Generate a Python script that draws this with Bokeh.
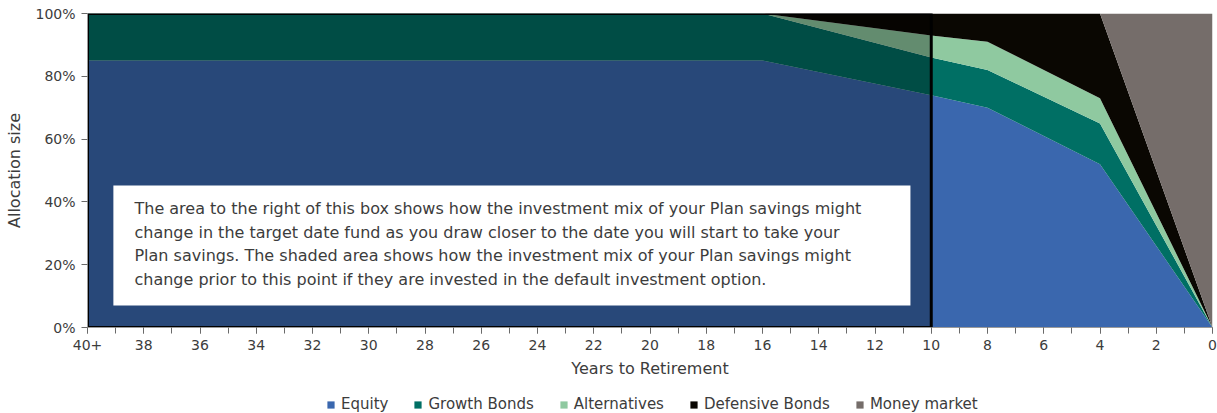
from bokeh.plotting import figure
from bokeh.layouts import column
from bokeh.models import (ColumnDataSource, Range1d, FixedTicker, Legend, LegendItem)
from bokeh.core.properties import value
from bokeh.embed import file_html
from bokeh.resources import INLINE

# ---- data ----
years = [40, 16, 10, 8, 4, 0]
equity = [85, 85, 74, 70, 52, 0]
growth_bonds = [15, 15, 12, 12, 13, 0]
alternatives = [0, 0, 7, 9, 8, 0]
defensive_bonds = [0, 0, 7, 9, 27, 0]
money_market = [0, 0, 0, 0, 0, 100]

series_names = ["Equity", "Growth Bonds", "Alternatives", "Defensive Bonds", "Money market"]
series_colors = ["#3A67AE", "#006F64", "#8FC9A0", "#0A0702", "#756D6A"]

x_ticks = list(range(0, 41, 2))
x_minor = list(range(0, 41, 1))
x_tick_labels = {t: ("40+" if t == 40 else str(t)) for t in x_ticks}
y_ticks = [0, 20, 40, 60, 80, 100]
y_tick_labels = {t: f"{t}%" for t in y_ticks}

shaded_from = 40
shaded_to = 10

note = ("The area to the right of this box shows how the investment mix of your Plan savings might\n"
        "change in the target date fund as you draw closer to the date you will start to take your\n"
        "Plan savings. The shaded area shows how the investment mix of your Plan savings might\n"
        "change prior to this point if they are invested in the default investment option.")

FONT = "DejaVu Sans"
TXT = "#3c3c3c"
stack_keys = ["Equity", "GB", "Alt", "Def", "MM"]

source = ColumnDataSource(dict(
    x=years, Equity=equity, GB=growth_bonds, Alt=alternatives,
    Def=defensive_bonds, MM=money_market))

fig = figure(width=1217, height=388, output_backend="svg", toolbar_location=None,
             x_range=Range1d(40, 0), y_range=Range1d(0, 100),
             min_border_left=87, min_border_right=5, min_border_top=13,
             min_border_bottom=61)
fig.outline_line_color = None
fig.xgrid.visible = False
fig.ygrid.visible = False
fig.background_fill_color = "white"

fig.varea_stack(stack_keys, x="x", source=source, color=series_colors)

# shaded region overlay
fig.quad(left=[shaded_from], right=[shaded_to], bottom=[0], top=[100],
         fill_color="black", fill_alpha=0.30, line_color="black", line_width=3)

# note box
fig.quad(left=[39.08], right=[10.74], bottom=[7.0], top=[45.2],
         fill_color="white", line_color=None)
fig.text(x=[38.33], y=[41.0], text=[note], text_font=value(FONT), text_font_size="16px",
         text_color=TXT, text_baseline="top", text_align="left", text_line_height=1.25)

# axes
xa = fig.xaxis[0]
xa.ticker = FixedTicker(ticks=x_ticks, minor_ticks=x_minor)
xa.major_label_overrides = x_tick_labels
xa.axis_label = "Years to Retirement"
ya = fig.yaxis[0]
ya.ticker = FixedTicker(ticks=y_ticks)
ya.major_label_overrides = y_tick_labels
ya.axis_label = "Allocation size"
for ax in (xa, ya):
    ax.axis_line_color = "#9a9a9a"
    ax.major_tick_line_color = "#6a6a6a"
    ax.minor_tick_line_color = "#6a6a6a"
    ax.major_tick_in = 0
    ax.major_tick_out = 6
    ax.minor_tick_in = 0
    ax.minor_tick_out = 6
    ax.major_label_text_font = FONT
    ax.major_label_text_font_size = "14px"
    ax.major_label_text_color = TXT
    ax.axis_label_text_font = FONT
    ax.axis_label_text_font_size = "16px"
    ax.axis_label_text_font_style = "normal"
    ax.axis_label_text_color = TXT
xa.major_label_standoff = 6
xa.axis_label_standoff = 6
ya.major_label_standoff = 6
ya.axis_label_standoff = 8
ya.minor_tick_out = 0

# legend strip below the chart (areas lie outside this strip's visible range;
# they only supply the legend swatches)
leg = figure(width=1217, height=25, output_backend="svg", toolbar_location=None,
             x_axis_type=None, y_axis_type=None,
             x_range=Range1d(40, 0), y_range=Range1d(-2, -1),
             min_border_left=0, min_border_right=0, min_border_top=0, min_border_bottom=0)
leg.outline_line_color = None
leg.xgrid.visible = False
leg.ygrid.visible = False
swatches = leg.varea_stack(stack_keys, x="x", source=source, color=series_colors)
legend = Legend(items=[LegendItem(label=n, renderers=[r]) for n, r in zip(series_names, swatches)],
                orientation="horizontal", location=(239, 0),
                glyph_width=9, glyph_height=9, label_height=12, label_text_font=FONT,
                label_text_font_size="15px", label_text_color=TXT,
                spacing=25, label_standoff=6, padding=0, margin=0,
                border_line_color=None, background_fill_alpha=0)
leg.add_layout(legend, "center")

p = column(fig, leg, spacing=0)
open("out.html", "w").write(file_html(p, INLINE))
